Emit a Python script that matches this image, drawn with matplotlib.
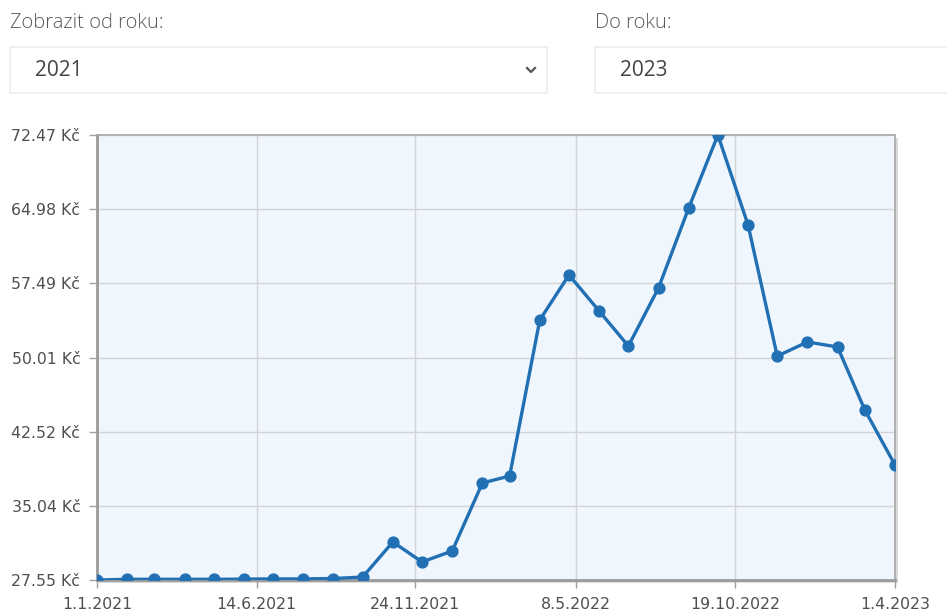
import matplotlib
matplotlib.use("Agg")
import matplotlib.pyplot as plt
from matplotlib.patches import Rectangle
from matplotlib.lines import Line2D
from datetime import datetime

plt.rcParams["font.family"] = ["DejaVu Sans"]

# ---- data ----
dates = ["2021-01-01", "2021-02-01", "2021-03-01", "2021-04-01", "2021-05-01", "2021-06-01",
         "2021-07-01", "2021-08-01", "2021-09-01", "2021-10-01", "2021-11-01", "2021-12-01",
         "2022-01-01", "2022-02-01", "2022-03-01", "2022-04-01", "2022-05-01", "2022-06-01",
         "2022-07-01", "2022-08-01", "2022-09-01", "2022-10-01", "2022-11-01", "2022-12-01",
         "2023-01-01", "2023-02-01", "2023-03-01", "2023-04-01"]
prices = [27.55, 27.62, 27.62, 27.62, 27.62, 27.64, 27.66, 27.66, 27.70, 27.85,
          31.39, 29.37, 30.48, 37.34, 38.05, 53.80, 58.34, 54.70, 51.17, 57.03,
          65.10, 72.47, 63.39, 50.15, 51.58, 51.07, 44.71, 39.16]
y_ticks = [27.55, 35.04, 42.52, 50.01, 57.49, 64.98, 72.47]
x_tick_dates = ["2021-01-01", "2021-06-14", "2021-11-24", "2022-05-08", "2022-10-19", "2023-04-01"]
x_tick_labels = ["1.1.2021", "14.6.2021", "24.11.2021", "8.5.2022", "19.10.2022", "1.4.2023"]
from_label = "Zobrazit od roku:"
to_label = "Do roku:"
from_value = "2021"
to_value = "2023"

W, H = 947, 612
fig = plt.figure(figsize=(W / 100, H / 100), dpi=100)
fig.patch.set_facecolor("white")

def fx(px):
    return px / W

def fy(py):
    return 1 - py / H

# ---- form controls ----
form_font = ["Open Sans", "DejaVu Sans"]
fig.text(fx(10), fy(23), from_label, fontsize=14.5, color="#5a5a5a", family=form_font,
         weight="light", va="center", ha="left")
fig.text(fx(595), fy(23), to_label, fontsize=14.5, color="#5a5a5a", family=form_font,
         weight="light", va="center", ha="left")
fig.patches.append(Rectangle((fx(10), fy(93)), fx(537), (93 - 47) / H, transform=fig.transFigure,
                             facecolor="white", edgecolor="#ececec", linewidth=1.2))
fig.patches.append(Rectangle((fx(595), fy(93)), fx(360), (93 - 47) / H, transform=fig.transFigure,
                             facecolor="white", edgecolor="#ececec", linewidth=1.2))
fig.text(fx(35), fy(71), from_value, fontsize=15, color="#444444", family=form_font,
         va="center", ha="left")
fig.text(fx(620), fy(71), to_value, fontsize=15, color="#444444", family=form_font,
         va="center", ha="left")
fig.lines.append(Line2D([fx(527), fx(531), fx(535)], [fy(68), fy(72), fy(68)],
                        transform=fig.transFigure, color="#555555", linewidth=1.6))

# ---- chart ----
left, right, top, bottom = 97, 895, 135, 580
ax_rect = [fx(left), fy(bottom), fx(right - left), (bottom - top) / H]

# shadow behind the plot frame
fig.patches.append(Rectangle((fx(left + 2), fy(bottom + 3)), fx(right - left + 1), (bottom - top) / H,
                             transform=fig.transFigure, facecolor="#dadada", edgecolor="none",
                             zorder=-1))

ax = fig.add_axes(ax_rect)
ax.set_zorder(1)
ax.set_facecolor("#eff6fd")

x = [datetime.strptime(d, "%Y-%m-%d") for d in dates]
xt = [datetime.strptime(d, "%Y-%m-%d") for d in x_tick_dates]

ax.plot(x, prices, color="#2170b4", linewidth=2.4, marker="o", markersize=7.8,
        markerfacecolor="#2170b4", markeredgecolor="#2170b4", zorder=3)

ax.set_xlim(x[0], x[-1])
ax.set_ylim(y_ticks[0], y_ticks[-1])
ax.set_yticks(y_ticks)
ax.set_yticklabels([f"{v:.2f} Kč" for v in y_ticks])
ax.set_xticks(xt)
ax.set_xticklabels(x_tick_labels)

ax.grid(True, color="#d4d4d4", linewidth=1.0)
ax.set_axisbelow(True)

for side in ["top", "right"]:
    ax.spines[side].set_color("#a8a8a8")
    ax.spines[side].set_linewidth(1.2)
for side in ["left", "bottom"]:
    ax.spines[side].set_color("#9a9a9a")
    ax.spines[side].set_linewidth(2.0)

ax.tick_params(axis="both", which="major", length=6, width=1, color="#a0a0a0",
               labelcolor="#4f4f4f", labelsize=11.3)
ax.tick_params(axis="y", pad=6)
ax.tick_params(axis="x", pad=6)

fig.savefig("out.png", dpi=100, facecolor="white")
